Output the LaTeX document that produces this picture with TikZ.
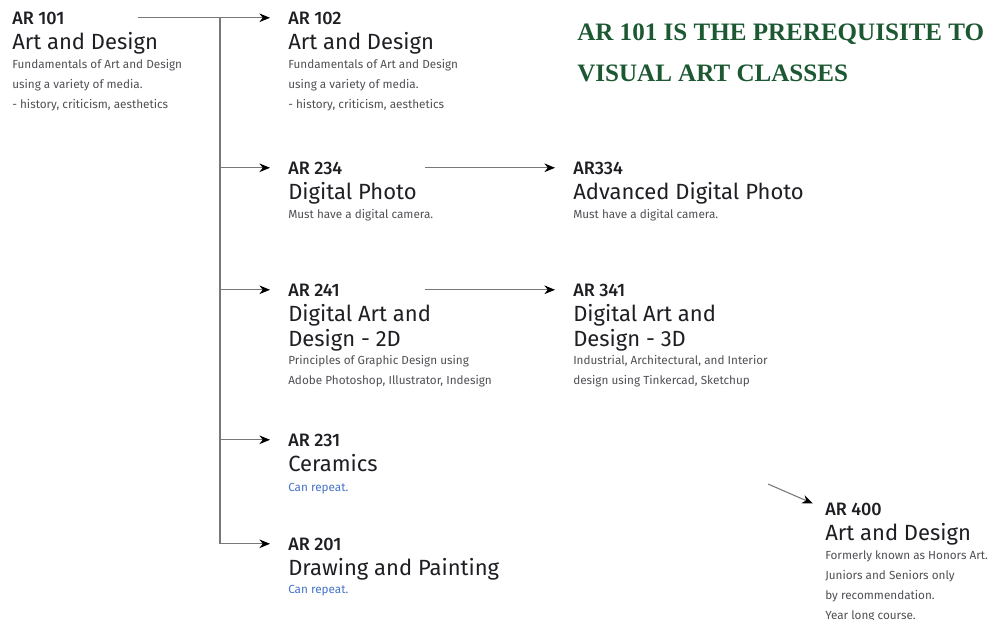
\documentclass[tikz,border=0pt]{standalone}
\usepackage{fontspec}
\setmainfont{Fira Sans}
\newfontfamily\codefont{Fira Sans Medium}
\newfontfamily\headfont{Liberation Serif}
\usetikzlibrary{positioning,arrows.meta}

\definecolor{ink}{RGB}{30,30,35}
\definecolor{notegray}{RGB}{80,80,85}
\definecolor{wiregray}{RGB}{120,120,120}
\definecolor{repeatblue}{RGB}{70,115,200}
\definecolor{headgreen}{RGB}{28,88,50}

\tikzset{
  code/.style={anchor=base west, inner sep=0pt, text depth=0pt, text=ink, font=\codefont\fontsize{13.5}{15}\selectfont},
  title/.style={anchor=north west, inner sep=0pt, text=ink, align=left, font=\fontsize{16.5}{18.75}\selectfont},
  note/.style={anchor=north west, inner sep=0pt, text=notegray, align=left, font=\fontsize{8.8}{15}\selectfont},
  wire/.style={draw=wiregray, line width=0.8pt},
  link/.style={wire, -{Stealth[length=8pt,width=6.5pt,black]}, shorten >=13.5pt},
}

\begin{document}
\begin{tikzpicture}[x=0.75pt,y=-0.75pt]
\clip (0,0) rectangle (991,619);

% heading
\node[anchor=north west, inner sep=0pt, align=left, text=headgreen, font=\headfont\bfseries\fontsize{18.8}{30.75}\selectfont] (headline) at (577,24)
  {AR 101 IS THE PREREQUISITE TO\\VISUAL ART CLASSES};

% AR 101
\node[code] (c101) at (12,24) {AR 101};
\node[title, below=6pt of c101.south west, anchor=north west] (t101) {Art and Design};
\node[note, below=3.5pt of t101.south west, anchor=north west] (n101) {Fundamentals of Art and Design\\using a variety of media.\\- history, criticism, aesthetics};

% AR 102
\node[code] (c102) at (288,24) {AR 102};
\node[title, below=6pt of c102.south west, anchor=north west] (t102) {Art and Design};
\node[note, below=3.5pt of t102.south west, anchor=north west] (n102) {Fundamentals of Art and Design\\using a variety of media.\\- history, criticism, aesthetics};

% AR 234
\node[code] (c234) at (288,174) {AR 234};
\node[title, below=6pt of c234.south west, anchor=north west] (t234) {Digital Photo};
\node[note, below=3.5pt of t234.south west, anchor=north west] (n234) {Must have a digital camera.};

% AR334
\node[code] (c334) at (573,174) {AR334};
\node[title, below=6pt of c334.south west, anchor=north west] (t334) {Advanced Digital Photo};
\node[note, below=3.5pt of t334.south west, anchor=north west] (n334) {Must have a digital camera.};

% AR 241
\node[code] (c241) at (288,296) {AR 241};
\node[title, below=6pt of c241.south west, anchor=north west] (t241) {Digital Art and\\Design - 2D};
\node[note, below=2.5pt of t241.south west, anchor=north west] (n241) {Principles of Graphic Design using\\Adobe Photoshop, Illustrator, Indesign};

% AR 341
\node[code] (c341) at (573,296) {AR 341};
\node[title, below=6pt of c341.south west, anchor=north west] (t341) {Digital Art and\\Design - 3D};
\node[note, below=2.5pt of t341.south west, anchor=north west] (n341) {Industrial, Architectural, and Interior\\design using Tinkercad, Sketchup};

% AR 231
\node[code] (c231) at (288,446) {AR 231};
\node[title, below=6pt of c231.south west, anchor=north west] (t231) {Ceramics};
\node[note, text=repeatblue, below=8pt of t231.south west, anchor=north west] (n231) {Can repeat.};

% AR 201
\node[code] (c201) at (288,550) {AR 201};
\node[title, below=6pt of c201.south west, anchor=north west] (t201) {Drawing and Painting};
\node[note, text=repeatblue, below=3.5pt of t201.south west, anchor=north west] (n201) {Can repeat.};

% AR 400
\node[code] (c400) at (825,515) {AR 400};
\node[title, below=6pt of c400.south west, anchor=north west] (t400) {Art and Design};
\node[note, below=3.5pt of t400.south west, anchor=north west] (n400) {Formerly known as Honors Art.\\Juniors and Seniors only\\by recommendation.\\Year long course.};

% connections
\coordinate (fork) at (220,18);
\draw[link, shorten <=55pt] (c101.east) -- (c102.west);
\draw[wire] (fork) -- (fork |- c201.west);
\foreach \c in {234,241,231,201}
  \draw[link] (fork |- c\c.west) -- (c\c.west);
\draw[link, shorten <=62pt] (c234.east) -- (c334.west);
\draw[link, shorten <=64pt] (c241.east) -- (c341.west);
\coordinate (from400) at (768,484);
\draw[link, shorten >=10pt] (from400) -- (c400.west);

\end{tikzpicture}
\end{document}
